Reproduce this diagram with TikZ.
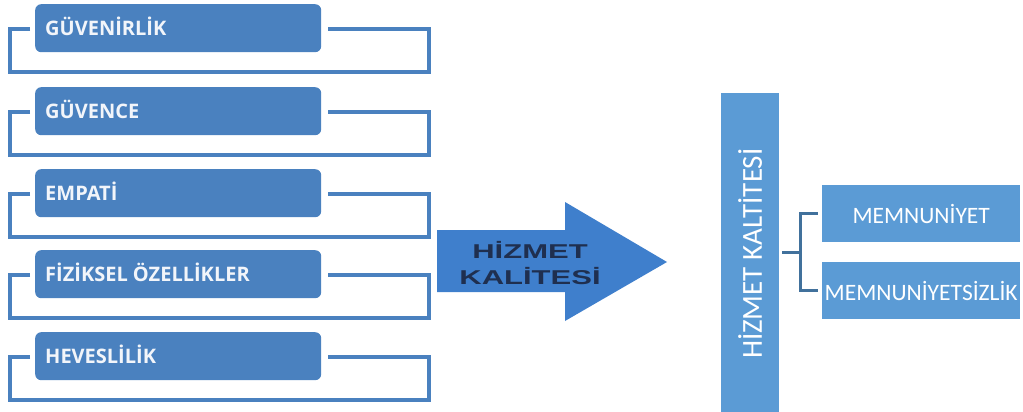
\documentclass[tikz,border=0pt]{standalone}
\usepackage{fontspec}
\setmainfont{Carlito}
\newfontfamily\leftfont{Open Sans}
\newfontfamily\arrowfont{Liberation Sans}
\definecolor{boxblue}{HTML}{4A81BF}
\definecolor{arrowblue}{HTML}{3F7FCC}
\definecolor{rightblue}{HTML}{5B9BD5}
\definecolor{connblue}{HTML}{41719C}
\definecolor{navy}{HTML}{1F2F4F}
\definecolor{labelwhite}{HTML}{F2F5FA}
\tikzset{
  factor/.style={draw=none, fill=boxblue, rounded corners=6pt, anchor=north west,
    minimum width=286pt, minimum height=48pt, inner sep=0pt},
  factortext/.style={anchor=west, text=labelwhite, inner sep=0pt,
    font=\leftfont\bfseries\fontsize{20}{20}\selectfont},
  frameline/.style={draw=boxblue, line width=4.5pt},
  result/.style={fill=rightblue, anchor=north west, minimum width=198pt, minimum height=57pt,
    text=white, font=\fontsize{23.5}{26}\selectfont, inner sep=0pt},
  conn/.style={draw=connblue, line width=3pt}
}
\begin{document}
\begin{tikzpicture}[x=1pt,y=-1pt]
\useasboundingbox (0,0) rectangle (1023,412);
% left factors with bracket frames
\foreach \i/\t/\lab in {1/4/GÜVENİRLİK, 2/87/GÜVENCE, 3/169/EMPATİ, 4/250/FİZİKSEL ÖZELLİKLER, 5/332/HEVESLİLİK}{
  \draw[frameline] (30,\t+25) -- (10,\t+25) -- (10,\t+68) -- (429,\t+68) -- (429,\t+25) -- (328,\t+25);
  \node[factor] (f\i) at (35,\t) {};
  \node[factortext] (f\i t) at ([xshift=10pt,yshift=2pt]f\i.west) {\lab};
}
% big arrow
\fill[arrowblue] (437,230) -- (565,230) -- (565,202) -- (667,262) -- (565,321) -- (565,292) -- (437,292) -- cycle;
\node[font=\arrowfont\bfseries\fontsize{20}{26}\selectfont, text=navy, align=center, xscale=1.55] (arrtxt) at (530,263) {HİZMET\\KALİTESİ};
% right part
\node[fill=rightblue, anchor=north west, minimum width=58pt, minimum height=319pt, inner sep=0pt] (hk) at (721,93) {};
\node[rotate=90, text=white, font=\fontsize{29}{30}\selectfont] (hkt) at ([yshift=-1pt]hk.center) {HİZMET KALTİTESİ};
\node[result] (m1) at (822,185) {MEMNUNİYET};
\node[result] (m2) at (822,262) {MEMNUNİYETSİZLİK};
\draw[conn] ([xshift=3pt]hk.east) -- ++(18,0) coordinate (jn);
\draw[conn] (jn) |- ([xshift=-4pt]m1.west);
\draw[conn] (jn) |- ([xshift=-4pt]m2.west);
\end{tikzpicture}
\end{document}
